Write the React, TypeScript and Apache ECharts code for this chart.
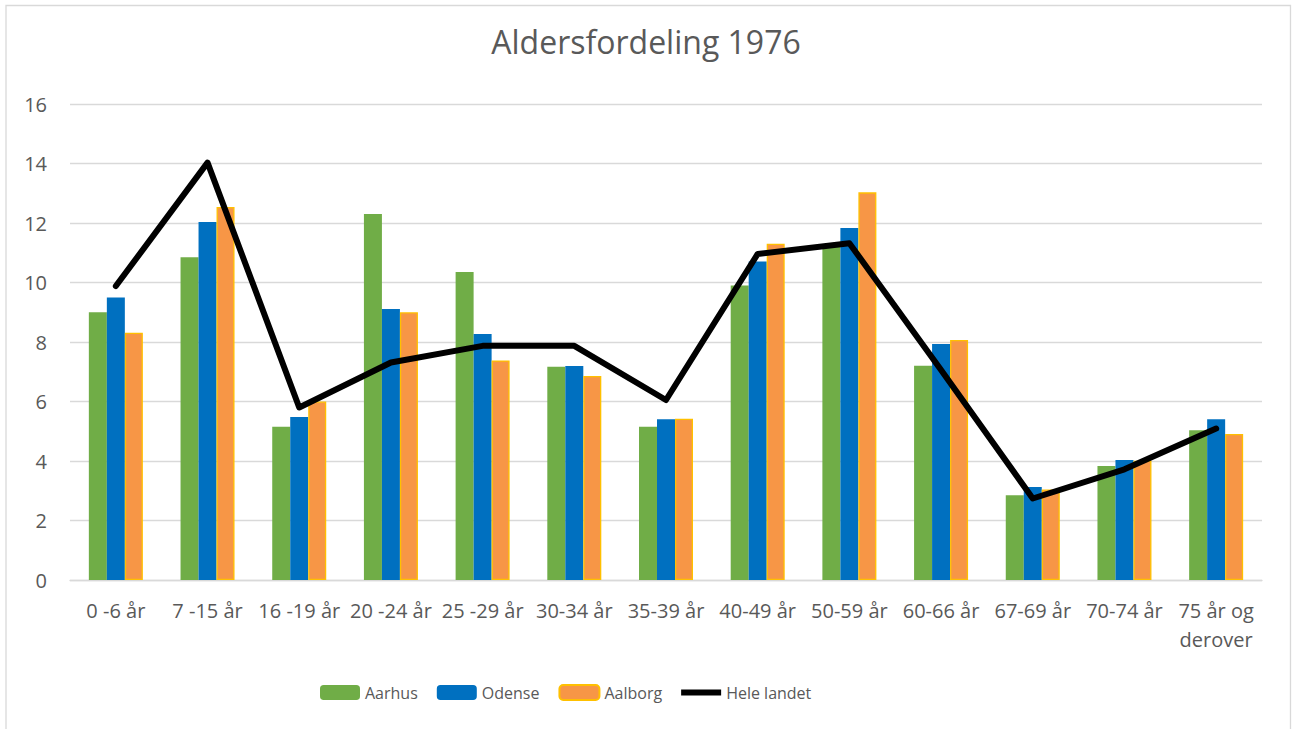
import React, { useEffect, useRef } from "react";
import * as echarts from "echarts";

const categories = [
  "0 -6 år",
  "7 -15 år",
  "16 -19 år",
  "20 -24 år",
  "25 -29 år",
  "30-34 år",
  "35-39 år",
  "40-49 år",
  "50-59 år",
  "60-66 år",
  "67-69 år",
  "70-74 år",
  "75 år og\nderover",
];
const aarhus = [9.0, 10.85, 5.15, 12.3, 10.35, 7.17, 5.15, 9.9, 11.2, 7.2, 2.85, 3.83, 5.03];
const odense = [9.5, 12.03, 5.48, 9.11, 8.27, 7.19, 5.4, 10.71, 11.83, 7.93, 3.13, 4.03, 5.4];
const aalborg = [8.31, 12.54, 6.0, 9.0, 7.38, 6.86, 5.42, 11.3, 13.03, 8.07, 3.04, 4.01, 4.91];
const heleLandet = [9.88, 14.03, 5.8, 7.31, 7.87, 7.87, 6.05, 10.96, 11.32, 7.06, 2.74, 3.72, 5.09];
const yTicks = { min: 0, max: 16, interval: 2 };

const FONT = "'Open Sans', sans-serif";
const TXT = "#595959";

export default function App() {
  const ref = useRef<HTMLDivElement>(null);
  useEffect(() => {
    if (!ref.current) return;
    const chart = echarts.init(ref.current, null, { renderer: "svg" });
    chart.setOption({
      animation: false,
      backgroundColor: "#ffffff",
      textStyle: { fontFamily: FONT, color: TXT },
      title: {
        text: "Aldersfordeling 1976",
        left: "center",
        top: 20,
        textStyle: { fontFamily: FONT, fontSize: 32, fontWeight: "normal", color: TXT },
      },
      graphic: [
        {
          type: "rect",
          shape: { x: 6, y: 5.5, width: 1284.5, height: 740 },
          style: { fill: "none", stroke: "#D9D9D9", lineWidth: 1.3 },
          silent: true,
          z: -1,
        },
      ],
      legend: {
        left: 315,
        top: 679,
        itemWidth: 40,
        itemHeight: 15,
        itemGap: 19,
        textStyle: { fontFamily: FONT, fontSize: 16, color: TXT },
        data: [
          { name: "Aarhus" },
          { name: "Odense" },
          { name: "Aalborg" },
          {
            name: "Hele landet",
            icon: "path://M0,0L40,0L40,6L0,6Z",
            itemStyle: { color: "#000000", borderWidth: 0 },
          },
        ],
      },
      grid: { left: 70, right: 30, top: 104, bottom: 149, containLabel: false },
      xAxis: {
        type: "category",
        data: categories,
        axisLine: { show: true, lineStyle: { color: "#D9D9D9", width: 1.3 } },
        axisTick: { show: false },
        axisLabel: {
          interval: 0,
          fontFamily: FONT,
          fontSize: 20,
          color: TXT,
          margin: 16,
          lineHeight: 29,
        },
      },
      yAxis: {
        type: "value",
        min: yTicks.min,
        max: yTicks.max,
        interval: yTicks.interval,
        axisLine: { show: false },
        axisTick: { show: false },
        splitLine: { lineStyle: { color: "#D9D9D9", width: 1.3 } },
        axisLabel: { fontFamily: FONT, fontSize: 20, color: TXT, margin: 23 },
      },
      series: [
        {
          name: "Aarhus",
          type: "bar",
          data: aarhus,
          barWidth: 18,
          barGap: "0%",
          itemStyle: { color: "#70AD47" },
        },
        {
          name: "Odense",
          type: "bar",
          data: odense,
          barWidth: 18,
          barGap: "0%",
          itemStyle: { color: "#0070C0" },
        },
        {
          name: "Aalborg",
          type: "bar",
          data: aalborg,
          barWidth: 18,
          barGap: "0%",
          itemStyle: { color: "#F79646", borderColor: "#FFC000", borderWidth: 1.3 },
        },
        {
          name: "Hele landet",
          type: "line",
          data: heleLandet,
          symbol: "none",
          lineStyle: { color: "#000000", width: 6, cap: "round", join: "round" },
          itemStyle: { color: "#000000" },
          z: 5,
        },
      ],
    });
    return () => chart.dispose();
  }, []);
  return (
    <div
      ref={ref}
      style={{ position: "absolute", left: 0, top: 0, width: 1292, height: 729 }}
    />
  );
}
